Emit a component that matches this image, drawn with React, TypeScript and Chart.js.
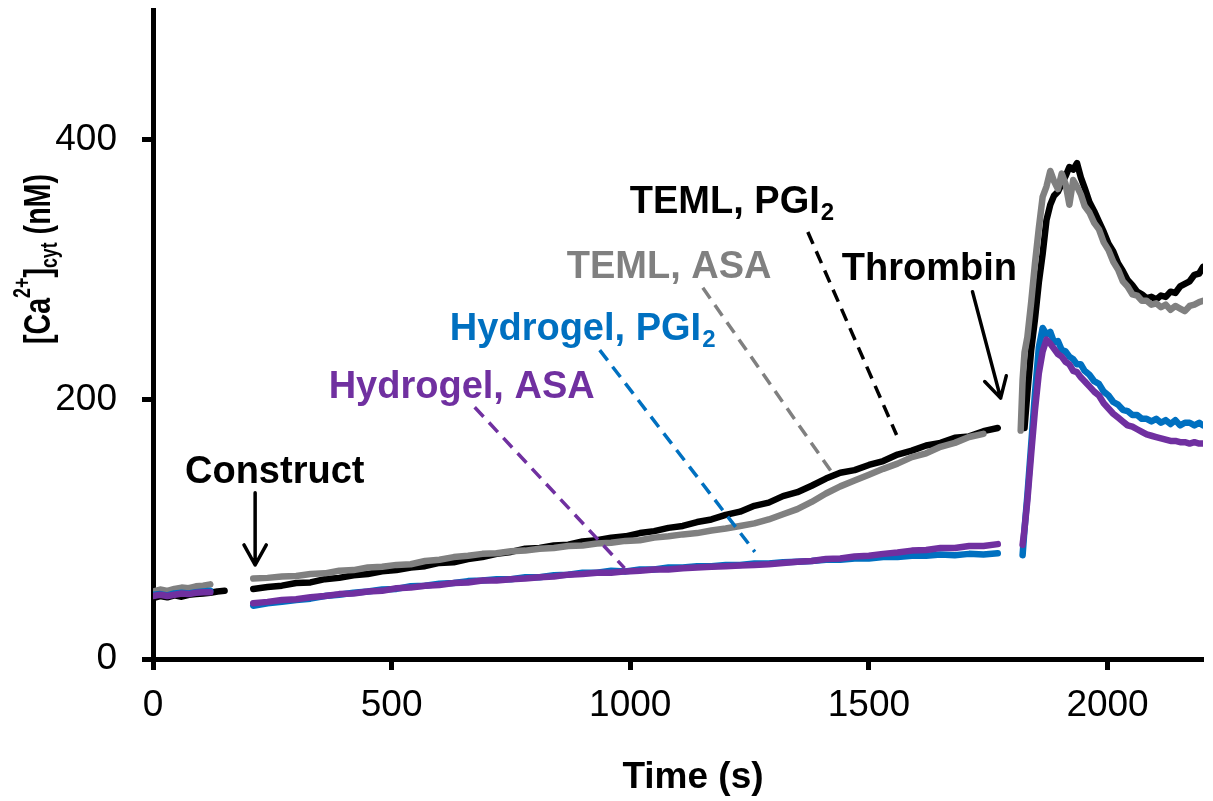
import React, { useEffect, useRef } from "react";
import { Chart, registerables } from "chart.js";

Chart.register(...registerables);

const FONT = "'Liberation Sans', Arial, Helvetica, sans-serif";

// ---------- Data (time in s, [Ca2+]cyt in nM) ----------
const seg1Time = [0, 15, 30, 45, 60, 75, 90, 105, 120, 135, 150];
const black1 = [47, 48.5, 47.5, 49, 48, 49.5, 50, 50.5, 51, 52, 52.5];
const gray1 = [52, 53.5, 52.5, 54, 55, 54.5, 56, 56.5, 57.5, null, null];
const blue1 = [49.5, 50, 49, 50.5, 51, 50.5, 51.5, 52, 52.5, null, null];
const purple1 = [48.5, 49.5, 48.5, 49.5, 50.5, 50, 51, 51.5, 51.5, null, null];

const seg2Time = [
  210, 240, 270, 300, 330, 360, 390, 420, 450, 480, 510, 540, 570, 600, 630, 660, 690, 720, 750, 780,
  810, 840, 870, 900, 930, 960, 990, 1020, 1050, 1080, 1110, 1140, 1170, 1200, 1230, 1260, 1290, 1320,
  1350, 1380, 1410, 1440, 1470, 1500, 1530, 1560, 1590, 1620, 1650, 1680, 1710, 1740, 1770,
];
const black2 = [
  54, 55.5, 56.5, 58.5, 59, 61.5, 62.5, 64.5, 65.5, 67.5, 68.5, 70.5, 71.5, 74, 74.5, 77, 78.5, 81, 82.5, 85,
  85.5, 87.5, 88, 90.5, 91.5, 93.5, 94.5, 97, 98.5, 101, 102.5, 105.5, 107.5, 111, 113.5, 118, 120.5, 125.5,
  128.5, 133.5, 139, 143.5, 145.5, 149.5, 152.5, 157.5, 160.5, 164.5, 166.5, 170.5, 171.5, 175.5, 178,
];
const gray2 = [
  62, 62.5, 63.5, 64, 65.5, 66, 68, 68.5, 70.5, 71, 72.5, 73, 75.5, 76.5, 78.5, 79.5, 81, 81.5, 83, 83.5,
  85, 85.5, 87, 87.5, 89, 89.5, 91, 91.5, 93.5, 94.5, 96, 97, 99, 100.5, 102.5, 104.5, 107.5, 111.5,
  115.5, 121, 127.5, 133, 137.5, 142, 146.5, 150.5, 155.5, 158.5, 163.5, 166.5, 171, 173.5, null,
];
const blue2 = [
  41, 43, 44, 45.5, 46.5, 48.5, 49.5, 51, 52, 53.5, 54, 56, 56.5, 58, 58.5, 60, 60.5, 61.5, 61.5, 63,
  63, 64.5, 65, 66.5, 66.5, 68, 67.5, 69, 69, 70.5, 70.5, 71.5, 71.5, 72.5, 72.5, 73.5, 73.5, 74.5,
  75, 75.5, 76.5, 76.5, 77.5, 77.5, 78.5, 78.5, 79.5, 79.5, 80.5, 80, 81, 80.5, 81.5,
];
const purple2 = [
  43, 44, 45.5, 46, 47.5, 48.5, 50, 50.5, 52, 52.5, 54.5, 55, 56.5, 57, 58.5, 59, 60.5, 60.5, 61.5, 62,
  63, 63.5, 65, 65.5, 66.5, 66.5, 67.5, 68, 69, 69, 70, 70.5, 71, 71.5, 72, 72.5, 73, 74,
  75, 75.5, 77, 77.5, 79, 79.5, 81, 82, 83.5, 84, 85.5, 85.5, 87, 87, 88.5,
];

const seg3Time = [
  1818, 1822, 1826, 1832, 1840, 1848, 1856, 1864, 1872, 1880, 1888, 1896, 1904, 1912, 1920, 1928, 1936,
  1944, 1952, 1962, 1972, 1982, 1992, 2002, 2012, 2022, 2032, 2042, 2052, 2062, 2072, 2082, 2092, 2102,
  2112, 2122, 2132, 2142, 2152, 2162, 2172, 2182, 2192, 2200,
];
const black3 = [
  null, null, 178, 205, 238, 262, 290, 312, 338, 350, 357, 360, 366, 372, 379, 377, 382,
  371, 363, 352, 345, 337, 329, 320, 314, 305, 299, 292, 288, 283, 281, 278, 279, 277,
  280, 279, 283, 282, 287, 289, 291, 296, 297, 302,
];
const gray3 = [
  176, 215, 236, 248, 275, 305, 332, 356, 364, 376, 368, 362, 374, 366, 350, 369, 364,
  358, 349, 344, 336, 331, 321, 315, 306, 300, 291, 287, 281, 280, 276, 276, 273, 274,
  271, 273, 269, 272, 270, 268, 272, 273, 275, 276,
];
const blue3 = [
  null, 80, 100, 126, 165, 205, 240, 255, 250, 252, 244, 245, 238, 237, 233, 231, 227,
  227, 222, 219, 214, 212, 206, 203, 198, 196, 192, 191, 188, 188, 185, 185, 183, 185,
  182, 184, 181, 184, 180, 182, 182, 180, 182, 180,
];
const purple3 = [
  null, 88, 100, 122, 158, 192, 220, 237, 246, 243, 239, 235, 233, 229, 227, 222, 221,
  217, 214, 210, 206, 203, 197, 193, 189, 186, 183, 180, 179, 177, 175, 173, 172, 171,
  170, 169, 168, 168, 167, 167, 166, 167, 166, 166,
];

// recording gaps (construct addition, thrombin addition)
const gapTimes = [180, 1795];

const xTickValues = [0, 500, 1000, 1500, 2000];
const yTickValues = [0, 200, 400];

// ---------- Annotation layout (data coordinates) ----------
const labels = [
  { x: 999, y: 343.7, color: "#000000", main: "TEML, PGI", sub: "2" },
  { x: 867, y: 293.6, color: "#808080", main: "TEML, ASA", sub: "" },
  { x: 622, y: 245.9, color: "#0070C0", main: "Hydrogel, PGI", sub: "2" },
  { x: 368, y: 201, color: "#7030A0", main: "Hydrogel, ASA", sub: "" },
  { x: 67, y: 135.6, color: "#000000", main: "Construct", sub: "" },
  { x: 1443, y: 292, color: "#000000", main: "Thrombin", sub: "" },
];
const leaders = [
  { x1: 1372, y1: 329, x2: 1558, y2: 172.6, color: "#000000" },
  { x1: 1152, y1: 286, x2: 1422, y2: 144, color: "#808080" },
  { x1: 936, y1: 238, x2: 1261, y2: 82.5, color: "#0070C0" },
  { x1: 674, y1: 194, x2: 988, y2: 70, color: "#7030A0" },
];
const arrows = [
  { x1: 214, y1: 128, x2: 214, y2: 72.4 },
  { x1: 1717, y1: 283, x2: 1776, y2: 201 },
];

function segPoints(times: number[], vals: (number | null)[]) {
  return times.map((t, i) => ({ x: t, y: vals[i] }));
}

function series(a: (number | null)[], b: (number | null)[], c: (number | null)[]) {
  return [
    ...segPoints(seg1Time, a),
    { x: gapTimes[0], y: null },
    ...segPoints(seg2Time, b),
    { x: gapTimes[1], y: null },
    ...segPoints(seg3Time, c),
  ];
}

const annotationPlugin = {
  id: "annotationsAndTitles",
  afterDatasetsDraw(chart: any) {
    const { ctx, scales } = chart;
    const xs = scales.x;
    const ys = scales.y;
    const px = (v: number) => xs.getPixelForValue(v);
    const py = (v: number) => ys.getPixelForValue(v);

    // dashed leader lines
    leaders.forEach((l) => {
      ctx.save();
      ctx.strokeStyle = l.color;
      ctx.lineWidth = 3.5;
      ctx.setLineDash([13, 8]);
      ctx.beginPath();
      ctx.moveTo(px(l.x1), py(l.y1));
      ctx.lineTo(px(l.x2), py(l.y2));
      ctx.stroke();
      ctx.restore();
    });

    // arrows
    arrows.forEach((a) => {
      const x1 = px(a.x1), y1 = py(a.y1), x2 = px(a.x2), y2 = py(a.y2);
      const ang = Math.atan2(y2 - y1, x2 - x1);
      const hl = 23, ha = Math.PI / 6.2;
      ctx.save();
      ctx.strokeStyle = "#000";
      ctx.lineWidth = 3.5;
      ctx.lineCap = "round";
      ctx.lineJoin = "round";
      ctx.beginPath();
      ctx.moveTo(x1, y1);
      ctx.lineTo(x2, y2);
      ctx.moveTo(x2 - hl * Math.cos(ang - ha), y2 - hl * Math.sin(ang - ha));
      ctx.lineTo(x2, y2);
      ctx.lineTo(x2 - hl * Math.cos(ang + ha), y2 - hl * Math.sin(ang + ha));
      ctx.stroke();
      ctx.restore();
    });

    // labels
    labels.forEach((lb) => {
      ctx.save();
      ctx.fillStyle = lb.color;
      ctx.textBaseline = "alphabetic";
      ctx.textAlign = "left";
      ctx.font = `bold 38px ${FONT}`;
      const x0 = px(lb.x), y0 = py(lb.y);
      ctx.fillText(lb.main, x0, y0);
      if (lb.sub) {
        const w = ctx.measureText(lb.main).width;
        ctx.font = `bold 24px ${FONT}`;
        ctx.fillText(lb.sub, x0 + w + 1, y0 + 7);
      }
      ctx.restore();
    });

    // x-axis title
    ctx.save();
    ctx.fillStyle = "#000";
    ctx.font = `bold 37px ${FONT}`;
    ctx.textAlign = "center";
    ctx.textBaseline = "alphabetic";
    ctx.fillText("Time (s)", 693, 788);
    ctx.restore();

    // y-axis title (rich text, rotated)
    const parts = [
      { t: "[Ca", size: 37, dy: 0 },
      { t: "2+", size: 23, dy: -20 },
      { t: "]", size: 37, dy: 0 },
      { t: "cyt", size: 23, dy: 7 },
      { t: " (nM)", size: 37, dy: 0 },
    ];
    ctx.save();
    ctx.fillStyle = "#000";
    ctx.textBaseline = "alphabetic";
    ctx.textAlign = "left";
    let total = 0;
    const widths = parts.map((p) => {
      ctx.font = `bold ${p.size}px ${FONT}`;
      const w = ctx.measureText(p.t).width;
      total += w;
      return w;
    });
    const targetLen = 170;
    const sc = targetLen / total;
    ctx.translate(50, 259);
    ctx.rotate(-Math.PI / 2);
    ctx.scale(sc, 1);
    let cx = -total / 2;
    parts.forEach((p, i) => {
      ctx.font = `bold ${p.size}px ${FONT}`;
      ctx.fillText(p.t, cx, p.dy);
      cx += widths[i];
    });
    ctx.restore();
  },
};

export default function App() {
  const ref = useRef<HTMLCanvasElement>(null);

  useEffect(() => {
    const lineStyle = {
      borderWidth: 6.5,
      pointRadius: 0,
      pointHoverRadius: 0,
      tension: 0,
      spanGaps: false,
      borderCapStyle: "round" as const,
      borderJoinStyle: "round" as const,
      fill: false,
    };
    const chart = new Chart(ref.current as HTMLCanvasElement, {
      type: "line",
      data: {
        datasets: [
          { label: "Hydrogel, ASA", data: series(purple1, purple2, purple3), borderColor: "#7030A0", ...lineStyle },
          { label: "Hydrogel, PGI2", data: series(blue1, blue2, blue3), borderColor: "#0070C0", ...lineStyle },
          { label: "TEML, ASA", data: series(gray1, gray2, gray3), borderColor: "#808080", ...lineStyle },
          { label: "TEML, PGI2", data: series(black1, black2, black3), borderColor: "#000000", ...lineStyle },
        ] as any,
      },
      options: {
        animation: false,
        responsive: false,
        events: [],
        layout: { padding: { left: 0, right: 10, top: 10, bottom: 0 } },
        plugins: {
          legend: { display: false },
          tooltip: { enabled: false },
          title: { display: false },
        },
        scales: {
          x: {
            type: "linear",
            min: 0,
            max: 2200,
            afterBuildTicks: (s: any) => {
              s.ticks = xTickValues.map((v) => ({ value: v }));
            },
            afterFit: (s: any) => {
              s.height = 142;
              s.paddingLeft = 0;
              s.paddingRight = 0;
            },
            border: { display: true, width: 5, color: "#000" },
            grid: {
              drawOnChartArea: false,
              drawTicks: true,
              tickLength: 11,
              tickWidth: 5,
              tickColor: "#000",
              color: "#000",
            },
            ticks: {
              color: "#000",
              font: { family: FONT, size: 37 },
              padding: 14,
              maxRotation: 0,
              autoSkip: false,
              callback: (v: any) => String(v),
            },
          },
          y: {
            type: "linear",
            min: 0,
            max: 500,
            afterBuildTicks: (s: any) => {
              s.ticks = yTickValues.map((v) => ({ value: v }));
            },
            afterFit: (s: any) => {
              s.width = 153;
              s.paddingTop = 0;
              s.paddingBottom = 0;
            },
            border: { display: true, width: 5, color: "#000" },
            grid: {
              drawOnChartArea: false,
              drawTicks: true,
              tickLength: 11,
              tickWidth: 5,
              tickColor: "#000",
              color: "#000",
            },
            ticks: {
              color: "#000",
              font: { family: FONT, size: 37 },
              padding: 25,
              autoSkip: false,
              callback: (v: any) => String(v),
            },
          },
        },
      } as any,
      plugins: [annotationPlugin],
    });
    return () => chart.destroy();
  }, []);

  return (
    <div style={{ position: "absolute", left: 0, top: 0, width: 1213, height: 801, background: "#fff" }}>
      <canvas ref={ref} width={1213} height={801} style={{ display: "block", width: 1213, height: 801 }} />
    </div>
  );
}
